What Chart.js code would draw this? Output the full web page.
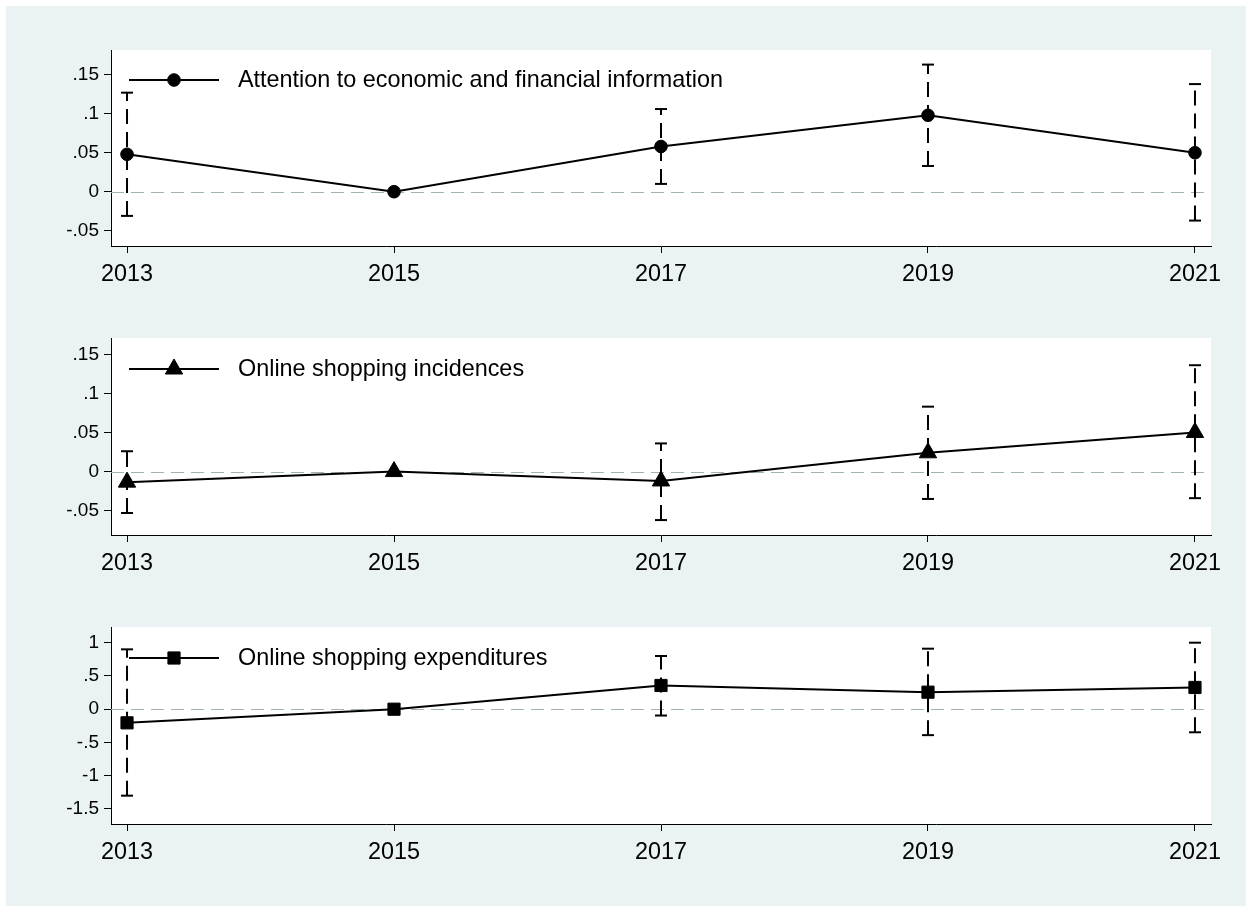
<!DOCTYPE html>
<html>
<head>
<meta charset="utf-8">
<script src="https://cdn.jsdelivr.net/npm/chart.js@4.4.1/dist/chart.umd.min.js"></script>
<style>
  body { margin: 0; background: #fff; }
  #graph { position: relative; width: 1252px; height: 912px; }
  #region { position: absolute; left: 6px; top: 6px; width: 1240px; height: 900px; background: #eaf2f3; }
  canvas { position: absolute; left: 0; }
</style>
</head>
<body>
<div id="graph">
  <div id="region"></div>
  <canvas id="panel1" width="1252" height="300" style="top:0px"></canvas>
  <canvas id="panel2" width="1252" height="300" style="top:288px"></canvas>
  <canvas id="panel3" width="1252" height="300" style="top:577px"></canvas>
</div>
<script>
// survey waves (2015 is the reference wave, no interval)
const years = [2013, 2015, 2017, 2019, 2021];

// Attention to economic and financial information
const attention = [0.048, 0, 0.058, 0.098, 0.050];
const attentionLo = [-0.031, null, 0.010, 0.033, -0.037];
const attentionHi = [0.127, null, 0.106, 0.163, 0.138];

// Online shopping incidences
const incidence = [-0.0135, 0, -0.012, 0.024, 0.050];
const incidenceLo = [-0.053, null, -0.062, -0.035, -0.034];
const incidenceHi = [0.026, null, 0.036, 0.083, 0.136];

// Online shopping expenditures
const expend = [-0.205, 0, 0.357, 0.256, 0.327];
const expendLo = [-1.30, null, -0.095, -0.39, -0.347];
const expendHi = [0.90, null, 0.80, 0.91, 1.00];

// y axis ticks
const smallTicks = [-0.05, 0, 0.05, 0.1, 0.15];
const smallTickLabels = ['-.05', '0', '.05', '.1', '.15'];
const expendTicks = [-1.5, -1, -0.5, 0, 0.5, 1];
const expendTickLabels = ['-1.5', '-1', '-.5', '0', '.5', '1'];

Chart.defaults.font.family = '"Liberation Sans", Arial, sans-serif';
Chart.defaults.color = '#000';

// white plot region
const plotBackground = {
  id: 'plotBackground',
  beforeDraw(chart) {
    const { ctx, chartArea: a } = chart;
    ctx.save();
    ctx.fillStyle = '#ffffff';
    ctx.fillRect(a.left, a.top, a.right - a.left, a.bottom - a.top);
    ctx.restore();
  }
};

// dashed reference line at 0
const zeroLine = {
  id: 'zeroLine',
  beforeDatasetsDraw(chart) {
    const { ctx, chartArea: a, scales } = chart;
    const y = Math.round(scales.y.getPixelForValue(0)) + 0.5;
    ctx.save();
    ctx.strokeStyle = '#9fb3b0';
    ctx.lineWidth = 1;
    ctx.setLineDash([13, 7]);
    ctx.beginPath();
    ctx.moveTo(a.left, y);
    ctx.lineTo(a.right, y);
    ctx.stroke();
    ctx.restore();
  }
};

// legend key inside the plot: line with marker, then label
const inlineLegend = {
  id: 'inlineLegend',
  afterDatasetsDraw(chart, args, opts) {
    const ds = chart.data.datasets[0];
    const { ctx, chartArea: a } = chart;
    const y = a.top + opts.offsetY;
    const x0 = a.left + 18;
    ctx.save();
    ctx.strokeStyle = '#000';
    ctx.lineWidth = 2;
    ctx.beginPath();
    ctx.moveTo(x0, y);
    ctx.lineTo(x0 + 90, y);
    ctx.stroke();
    ctx.fillStyle = '#000';
    ctx.lineWidth = 1;
    Chart.helpers.drawPoint(ctx, { pointStyle: ds.pointStyle, radius: ds.pointRadius, rotation: 0, borderWidth: 1 }, x0 + 45, y);
    ctx.font = '23.4px "Liberation Sans", Arial, sans-serif';
    ctx.textBaseline = 'middle';
    ctx.textAlign = 'left';
    ctx.fillText(ds.label, a.left + 127, y + 1);
    ctx.restore();
  }
};

function makePanel(id, label, values, lo, hi, marker, radius, yMin, yMax, ticks, tickLabels, padBottom, legendY) {
  const datasets = [{
    label: label,
    data: years.map((x, i) => ({ x: x, y: values[i] })),
    borderColor: '#000',
    borderWidth: 2,
    pointStyle: marker,
    pointRadius: radius,
    pointBackgroundColor: '#000',
    pointBorderColor: '#000',
    pointBorderWidth: 1
  }];
  // confidence intervals as dashed vertical segments with caps
  years.forEach((x, i) => {
    if (lo[i] === null) return;
    datasets.push({
      label: 'ci',
      data: [{ x: x, y: lo[i] }, { x: x, y: hi[i] }],
      borderColor: '#000',
      borderWidth: 2,
      borderDash: [15, 8],
      pointStyle: 'line',
      pointRadius: 6,
      pointBorderColor: '#000',
      pointBorderWidth: 2
    });
  });

  return new Chart(document.getElementById(id), {
    type: 'line',
    data: { datasets: datasets },
    plugins: [plotBackground, zeroLine, inlineLegend],
    options: {
      responsive: false,
      animation: false,
      events: [],
      layout: { padding: { top: 50, left: 0, right: 41, bottom: padBottom } },
      plugins: {
        legend: { display: false },
        tooltip: { enabled: false },
        inlineLegend: { offsetY: legendY }
      },
      scales: {
        x: {
          type: 'linear',
          min: 2012.88,
          max: 2021.12,
          afterBuildTicks: s => { s.ticks = years.map(v => ({ value: v })); },
          afterFit: s => { s.height = 40; },
          grid: { display: true, drawOnChartArea: false, drawTicks: true, tickLength: 7, color: '#000', lineWidth: 1 },
          border: { display: true, color: '#000', width: 1 },
          ticks: { font: { size: 23.4 }, color: '#000', padding: 8, maxRotation: 0, autoSkip: false, callback: v => String(v) }
        },
        y: {
          type: 'linear',
          min: yMin,
          max: yMax,
          afterBuildTicks: s => { s.ticks = ticks.map(v => ({ value: v })); },
          afterFit: s => { s.width = 111; },
          grid: { display: true, drawOnChartArea: false, drawTicks: true, tickLength: 7, color: '#000', lineWidth: 1 },
          border: { display: true, color: '#000', width: 1 },
          ticks: { font: { size: 19 }, color: '#000', padding: 5, autoSkip: false, callback: v => tickLabels[ticks.indexOf(v)] }
        }
      }
    }
  });
}

makePanel('panel1', 'Attention to economic and financial information', attention, attentionLo, attentionHi,
  'circle', 6.3, -0.0696, 0.1817, smallTicks, smallTickLabels, 14, 30);
makePanel('panel2', 'Online shopping incidences', incidence, incidenceLo, incidenceHi,
  'triangle', 10, -0.0811, 0.1708, smallTicks, smallTickLabels, 13, 31);
makePanel('panel3', 'Online shopping expenditures', expend, expendLo, expendHi,
  'rect', 8.6, -1.726, 1.236, expendTicks, expendTickLabels, 13, 31);
</script>
</body>
</html>
